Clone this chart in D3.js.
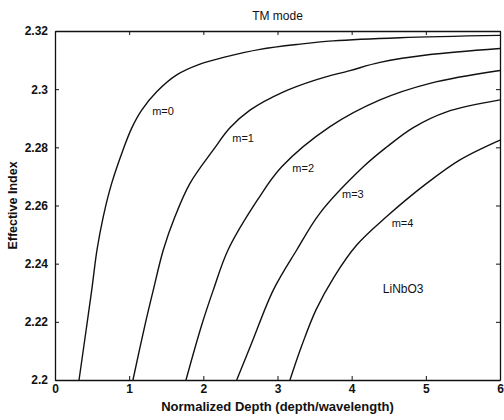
<!DOCTYPE html>
<html>
<head>
<meta charset="utf-8">
<script src="https://cdn.jsdelivr.net/npm/d3@7"></script>
<style>
  body { margin: 0; background: #fff; }
  text { font-family: "Liberation Sans", Arial, sans-serif; fill: #111; }
</style>
</head>
<body>
<div id="chart"></div>
<script>
// Chart data
var xTicks = [0, 1, 2, 3, 4, 5, 6];
var yTicks = [2.2, 2.22, 2.24, 2.26, 2.28, 2.3, 2.32];
var yTickLabels = ["2.2", "2.22", "2.24", "2.26", "2.28", "2.3", "2.32"];

var modeNames = ["m=0", "m=1", "m=2", "m=3", "m=4"];

var depth0 = [0.324, 0.495, 0.566, 0.651, 0.764, 0.917, 1.034, 1.169, 1.371, 1.641, 1.955, 2.315, 2.764, 3.303, 3.748, 4.651, 6.0];
var index0 = [2.2, 2.2309, 2.2447, 2.2562, 2.2676, 2.2791, 2.2866, 2.2928, 2.2991, 2.3049, 2.3086, 2.3112, 2.3137, 2.3155, 2.3166, 2.3177, 2.3185];

var depth1 = [1.051, 1.213, 1.325, 1.46, 1.618, 1.82, 2.134, 2.359, 2.629, 3.074, 3.528, 3.977, 4.382, 5.056, 6.0];
var index1 = [2.2, 2.2189, 2.2309, 2.2447, 2.2562, 2.2676, 2.2791, 2.2867, 2.2928, 2.299, 2.3033, 2.3064, 2.3092, 2.3119, 2.314];

var depth2 = [1.766, 1.978, 2.134, 2.333, 2.73, 3.057, 3.708, 4.382, 5.056, 6.0];
var index2 = [2.2, 2.2189, 2.2309, 2.2447, 2.2619, 2.2733, 2.2871, 2.2963, 2.302, 2.3064];

var depth3 = [2.45, 2.652, 2.943, 3.259, 3.573, 4.157, 4.472, 4.831, 5.281, 6.0];
var index3 = [2.2, 2.2127, 2.2309, 2.2447, 2.2574, 2.2733, 2.2801, 2.2868, 2.2922, 2.2963];

var depth4 = [3.168, 3.33, 3.519, 3.762, 4.068, 4.472, 5.011, 5.46, 6.0];
var index4 = [2.2, 2.212, 2.2241, 2.2354, 2.2464, 2.2562, 2.2676, 2.2757, 2.2825];

// where the mode labels sit (data units)
var labelDepth = [1.31, 2.39, 3.2, 3.87, 4.54];
var labelIndex = [2.2925, 2.2832, 2.2729, 2.264, 2.254];

// Chart Params
var svgWidth = 504;
var svgHeight = 420;
var margin = { top: 31, right: 4, bottom: 40, left: 55 };

var svg = d3.select("#chart")
  .append("svg")
  .attr("width", svgWidth)
  .attr("height", svgHeight);

var chartGroup = svg.append("g")
  .attr("transform", `translate(${margin.left}, ${margin.top})`);

var x = d3.scaleLinear().domain([0, 6]).range([0, 445]);
var y = d3.scaleLinear().domain([2.2, 2.32]).range([349, 0]);

// axes, MATLAB style with inward ticks
var bottomAxis = d3.axisBottom(x).tickValues(xTicks).tickSizeInner(-4).tickSizeOuter(0).tickPadding(7).tickFormat(d3.format("d"));
var leftAxis = d3.axisLeft(y).tickValues(yTicks).tickSizeInner(-4).tickSizeOuter(0).tickPadding(7)
  .tickFormat(function(d, i) { return yTickLabels[i]; });
var topAxis = d3.axisTop(x).tickValues(xTicks).tickSizeInner(-4).tickSizeOuter(0).tickFormat("");
var rightAxis = d3.axisRight(y).tickValues(yTicks).tickSizeInner(-4).tickSizeOuter(0).tickFormat("");

var gx = chartGroup.append("g").attr("transform", `translate(0, ${y(2.2)})`).call(bottomAxis);
var gy = chartGroup.append("g").call(leftAxis);
chartGroup.append("g").call(topAxis);
chartGroup.append("g").attr("transform", `translate(${x(6)}, 0)`).call(rightAxis);

chartGroup.selectAll(".domain").attr("stroke", "#111").attr("stroke-width", 1.3);
chartGroup.selectAll(".tick line").attr("stroke", "#111");
chartGroup.selectAll(".tick text").attr("font-size", 12).attr("font-family", "Liberation Sans, Arial, sans-serif").attr("font-weight", "bold").attr("fill", "#111");
gx.selectAll(".tick text").attr("dy", "0.5em");

// curves
var curves = [
  d3.zip(depth0, index0),
  d3.zip(depth1, index1),
  d3.zip(depth2, index2),
  d3.zip(depth3, index3),
  d3.zip(depth4, index4)
];

var line = d3.line()
  .x(d => x(d[0]))
  .y(d => y(d[1]))
  .curve(d3.curveCatmullRom.alpha(0.5));

chartGroup.selectAll("path.mode")
  .data(curves)
  .enter()
  .append("path")
  .attr("class", "mode")
  .attr("d", line)
  .attr("fill", "none")
  .attr("stroke", "#111")
  .attr("stroke-width", 1.4);

// mode labels
chartGroup.selectAll("text.modeLabel")
  .data(modeNames)
  .enter()
  .append("text")
  .attr("class", "modeLabel")
  .attr("x", (d, i) => x(labelDepth[i]))
  .attr("y", (d, i) => y(labelIndex[i]))
  .attr("dy", "0.35em")
  .attr("font-size", 11)
  .text(d => d);

chartGroup.append("text")
  .attr("x", x(4.42))
  .attr("y", y(2.2313))
  .attr("dy", "0.35em")
  .attr("font-size", 12)
  .text("LiNbO3");

// title and axis titles
svg.append("text")
  .attr("text-anchor", "middle")
  .attr("x", margin.left + x(3))
  .attr("y", 20)
  .attr("font-size", 12)
  .text("TM mode");

svg.append("text")
  .attr("text-anchor", "middle")
  .attr("x", margin.left + x(3))
  .attr("y", 411)
  .attr("font-size", 13)
  .attr("font-weight", "bold")
  .text("Normalized Depth (depth/wavelength)");

svg.append("text")
  .attr("text-anchor", "middle")
  .attr("transform", `translate(17, ${margin.top + y(2.26)})rotate(-90)`)
  .attr("font-size", 12.5)
  .attr("font-weight", "bold")
  .text("Effective Index");
</script>
</body>
</html>
